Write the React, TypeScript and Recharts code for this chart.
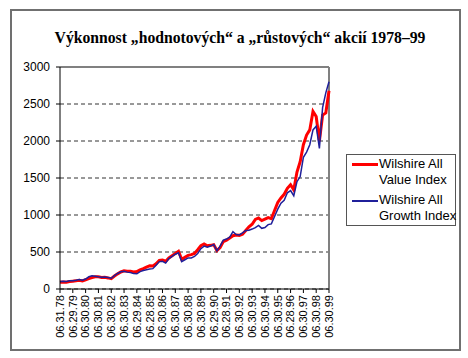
import React from 'react';
import { LineChart, Line, XAxis, YAxis, CartesianGrid, ReferenceLine } from 'recharts';

const title = 'Výkonnost „hodnotových“ a „růstových“ akcií 1978–99';
const seriesNames = ['Wilshire All Value Index', 'Wilshire All Growth Index'];

const dates = [
  '06.31.78', '09.29.78', '12.29.78', '03.30.79',
  '06.29.79', '09.28.79', '12.31.79', '03.31.80',
  '06.30.80', '09.30.80', '12.31.80', '03.31.81',
  '06.30.81', '09.30.81', '12.31.81', '03.31.82',
  '06.30.82', '09.30.82', '12.31.82', '03.31.83',
  '06.30.83', '09.30.83', '12.30.83', '03.30.84',
  '06.29.84', '09.28.84', '12.31.84', '03.29.85',
  '06.28.85', '09.30.85', '12.31.85', '03.31.86',
  '06.30.86', '09.30.86', '12.31.86', '03.31.87',
  '06.30.87', '09.30.87', '12.31.87', '03.31.88',
  '06.30.88', '09.30.88', '12.30.88', '03.31.89',
  '06.30.89', '09.29.89', '12.29.89', '03.30.90',
  '06.29.90', '09.28.90', '12.31.90', '03.28.91',
  '06.28.91', '09.30.91', '12.31.91', '03.31.92',
  '06.30.92', '09.30.92', '12.31.92', '03.31.93',
  '06.30.93', '09.30.93', '12.31.93', '03.31.94',
  '06.30.94', '09.30.94', '12.30.94', '03.31.95',
  '06.30.95', '09.29.95', '12.29.95', '03.29.96',
  '06.28.96', '09.30.96', '12.31.96', '03.31.97',
  '06.30.97', '09.30.97', '12.31.97', '03.31.98',
  '06.30.98', '09.30.98', '12.31.98', '03.31.99',
  '06.30.99',
];

const valueIndex = [
  90, 95, 92, 100,
  105, 110, 118, 108,
  125, 140, 155, 165,
  165, 155, 158, 150,
  140, 175, 205, 230,
  245, 240, 240, 230,
  235, 260, 275, 295,
  315, 310, 340, 385,
  390, 375, 420, 450,
  480, 510, 400, 430,
  455, 465, 480, 530,
  585, 610, 585, 590,
  600, 520, 560, 640,
  660, 690, 720, 730,
  725, 740, 790, 840,
  875, 940, 960, 925,
  945, 965, 950, 1060,
  1170, 1230, 1280, 1360,
  1410, 1340, 1580, 1720,
  1950, 2080, 2150, 2400,
  2330, 2000, 2350, 2380,
  2680,
];

const growthIndex = [
  100, 105, 100, 110,
  112, 118, 128, 118,
  135, 165, 178, 172,
  165, 160, 162, 155,
  145, 180, 210, 232,
  240, 228, 222, 208,
  205, 235, 250, 260,
  270, 275, 320, 370,
  375, 350, 410, 440,
  470, 490, 370, 395,
  420, 420, 440, 480,
  545, 580, 565, 580,
  600, 515, 580, 660,
  675, 700, 775, 735,
  730, 760, 790, 795,
  810, 830, 860, 820,
  830, 870, 880, 980,
  1080, 1160, 1200, 1300,
  1330, 1260, 1450, 1520,
  1780, 1850, 1950, 2150,
  2200, 1900, 2450, 2650,
  2800,
];

const yTicks = [0, 500, 1000, 1500, 2000, 2500, 3000];

const data = dates.map((d, i) => ({ date: d, value: valueIndex[i], growth: growthIndex[i] }));

const XTick = (props: any) => {
  const { x, y, payload } = props;
  return (
    <g transform={`translate(${x},${y})`}>
      <text
        x={0}
        y={0}
        dy="0.35em"
        transform="rotate(-90)"
        textAnchor="end"
        fontSize={11}
        fontFamily="'Liberation Sans', Arial, sans-serif"
        fill="#000"
      >
        {payload.value}
      </text>
    </g>
  );
};

export default function App() {
  return (
    <div style={{ position: 'absolute', left: 0, top: 0, width: 468, height: 358, background: '#fff' }}>
      <div
        style={{
          position: 'absolute',
          left: 10,
          top: 9,
          width: 447,
          height: 338,
          border: '2px solid #707070',
        }}
      />
      <div
        style={{
          position: 'absolute',
          left: 0,
          top: 28,
          width: 480,
          textAlign: 'center',
          fontFamily: "'Liberation Serif', 'Times New Roman', serif",
          fontWeight: 'bold',
          fontSize: 15.7,
          lineHeight: '20px',
          color: '#000',
          whiteSpace: 'nowrap',
        }}
      >
        {title}
      </div>
      <div style={{ position: 'absolute', left: 0, top: 0 }}>
        <LineChart width={468} height={358} data={data} margin={{ top: 67, right: 139, left: 10, bottom: 19 }}>
          <CartesianGrid vertical={false} stroke="#333" strokeDasharray="4 3" />
          <XAxis
            dataKey="date"
            interval={3}
            tick={<XTick />}
            tickSize={4}
            tickMargin={2}
            height={50}
            axisLine={{ stroke: '#000' }}
            tickLine={{ stroke: '#000' }}
          />
          <YAxis
            domain={[0, 3000]}
            ticks={yTicks}
            width={50}
            tickSize={4}
            tickMargin={6}
            axisLine={{ stroke: '#000' }}
            tickLine={{ stroke: '#000' }}
            tick={{ fontSize: 12, fill: '#000', fontFamily: "'Liberation Sans', Arial, sans-serif" }}
          />
          <ReferenceLine y={3000} stroke="#808080" strokeWidth={2} />
          <ReferenceLine x={dates[dates.length - 1]} stroke="#808080" strokeWidth={2} />
          <Line
            type="linear"
            dataKey="value"
            name={seriesNames[0]}
            stroke="#ff0000"
            strokeWidth={3}
            dot={false}
            isAnimationActive={false}
          />
          <Line
            type="linear"
            dataKey="growth"
            name={seriesNames[1]}
            stroke="#1f1f9a"
            strokeWidth={1.5}
            dot={false}
            isAnimationActive={false}
          />
        </LineChart>
      </div>
      <div
        style={{
          position: 'absolute',
          left: 346,
          top: 154,
          width: 108,
          height: 70,
          border: '1px solid #555',
          fontFamily: "'Liberation Sans', Arial, sans-serif",
          fontSize: 13,
          lineHeight: '16px',
          color: '#000',
        }}
      >
        <div style={{ position: 'absolute', left: 5, top: 8, width: 26, height: 3, background: '#ff0000' }} />
        <div style={{ position: 'absolute', left: 32, top: 1, whiteSpace: 'nowrap' }}>
          Wilshire All<br />Value Index
        </div>
        <div style={{ position: 'absolute', left: 5, top: 45, width: 26, height: 1.5, background: '#1f1f9a' }} />
        <div style={{ position: 'absolute', left: 32, top: 37, whiteSpace: 'nowrap' }}>
          Wilshire All<br />Growth Index
        </div>
      </div>
    </div>
  );
}
